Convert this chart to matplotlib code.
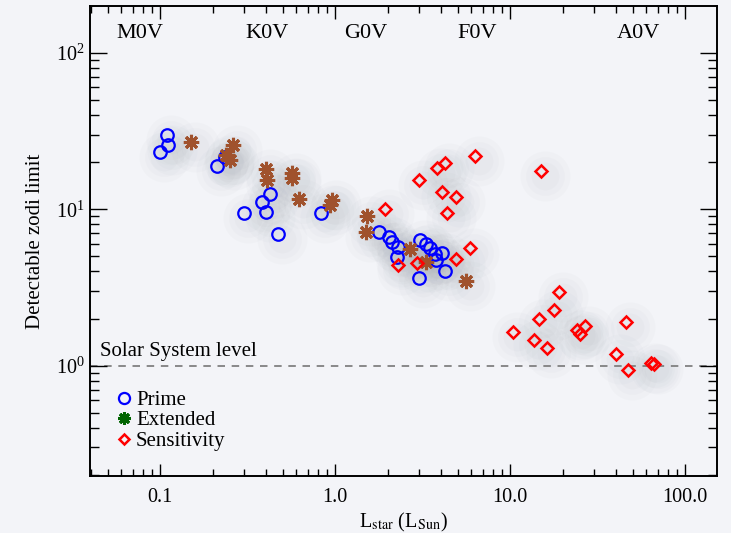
import matplotlib
matplotlib.use("Agg")
import matplotlib.pyplot as plt
import matplotlib.transforms as mtransforms
from matplotlib.lines import Line2D
from matplotlib.ticker import LogLocator, FixedLocator, FixedFormatter, NullFormatter

plt.rcParams['font.family'] = ['Liberation Serif', 'DejaVu Serif']
plt.rcParams['mathtext.fontset'] = 'stix'

# Prime targets (L_star in L_Sun, detectable zodi limit)
prime_L = [0.100, 0.111, 0.110, 0.210, 0.236, 0.300, 0.381, 0.422, 0.400, 0.472,
           0.825, 1.79, 2.02, 2.11, 2.28, 2.26, 3.04, 3.29, 3.46, 3.70,
           4.07, 3.78, 4.25, 3.00]
prime_z = [23.1, 25.6, 29.7, 19.0, 21.7, 9.5, 11.2, 12.6, 9.6, 6.9,
           9.5, 7.15, 6.64, 6.17, 5.73, 4.95, 6.33, 6.02, 5.65, 5.20,
           5.27, 4.72, 4.01, 3.65]

# Extended targets
ext_L = [0.150, 0.260, 0.239, 0.249, 0.400, 0.407, 0.566, 0.566, 0.623, 0.958,
         0.933, 1.52, 1.50, 2.67, 3.32, 5.58]
ext_z = [26.8, 25.9, 22.2, 20.6, 18.2, 15.4, 17.0, 15.8, 11.6, 11.4,
         10.6, 9.0, 7.2, 5.53, 4.62, 3.50]

# Sensitivity targets
sens_L = [1.92, 3.02, 3.83, 4.24, 6.29, 15.0, 4.09, 4.88, 4.33, 5.89,
          4.89, 2.28, 2.93, 10.3, 13.7, 14.5, 16.3, 17.8, 18.9, 24.2,
          24.9, 26.7, 45.7, 40.2, 47.2, 63.3, 66.4]
sens_z = [9.99, 15.4, 18.4, 19.7, 22.0, 17.6, 12.9, 11.9, 9.5, 5.63,
          4.84, 4.42, 4.56, 1.63, 1.45, 1.98, 1.30, 2.27, 2.94, 1.68,
          1.59, 1.79, 1.89, 1.18, 0.94, 1.04, 1.02]

# spectral type markers along the top
spt_names = ['M0V', 'K0V', 'G0V', 'F0V', 'A0V']
spt_L = [0.077, 0.41, 1.5, 6.45, 54.0]

bg = '#f3f4f8'
fig = plt.figure(figsize=(7.31, 5.33), dpi=100, facecolor=bg)
ax = fig.add_axes([0.1231, 0.1075, 0.8577, 0.8812], facecolor=bg)
ax.set_xscale('log')
ax.set_yscale('log')
ax.set_xlim(0.0397, 151.7)
ax.set_ylim(0.198, 199)

# soft drop shadow under the points (stacked faint discs, shifted down-right)
shadow = mtransforms.offset_copy(ax.transData, fig=fig, x=4, y=-5, units='dots')
all_L = prime_L + ext_L + sens_L
all_z = prime_z + ext_z + sens_z
for s, a in [(36, 0.04), (28, 0.04), (20, 0.045)]:
    ax.plot(all_L, all_z, ls='none', marker='o', ms=s, mfc='#9aa0aa', mec='none',
            alpha=a, transform=shadow, zorder=0.5)

ax.axhline(1.0, color='#777777', lw=1.2, ls=(0, (4.5, 4)), zorder=1)
ax.text(0.0452, 1.07, 'Solar System level', fontsize=15, ha='left', va='bottom')

ax.plot(prime_L, prime_z, ls='none', marker='o', ms=9, mfc='none', mec='#0000ff', mew=1.6, zorder=3)
ax.plot(ext_L, ext_z, ls='none', marker=(8, 2, 0), ms=11, mec='#a0522d', mew=2.2, zorder=4)
ax.plot(sens_L, sens_z, ls='none', marker='D', ms=6.3, mfc='none', mec='#ff0000', mew=1.8, zorder=5)

for name, L in zip(spt_names, spt_L):
    ax.text(L, 133, name, fontsize=16, ha='center', va='center')

ax.set_xlabel(r'L$_{\rm star}$ (L$_{\rm Sun}$)', fontsize=14.5, labelpad=3)
ax.set_ylabel('Detectable zodi limit', fontsize=15, labelpad=8)

ax.xaxis.set_major_locator(FixedLocator([0.1, 1.0, 10.0, 100.0]))
ax.xaxis.set_major_formatter(FixedFormatter(['0.1', '1.0', '10.0', '100.0']))
ax.xaxis.set_minor_locator(LogLocator(base=10, subs=range(2, 10), numticks=20))
ax.xaxis.set_minor_formatter(NullFormatter())
ax.yaxis.set_minor_locator(LogLocator(base=10, subs=range(2, 10), numticks=20))
ax.yaxis.set_minor_formatter(NullFormatter())

ax.tick_params(which='both', direction='in', top=True, right=True, width=1.0, labelsize=14.5)
ax.tick_params(axis='x', which='major', length=9, pad=9)
ax.tick_params(axis='x', which='minor', length=5)
ax.tick_params(axis='y', which='major', length=12, pad=4)
ax.tick_params(axis='y', which='minor', length=6.5)
for sp in ax.spines.values():
    sp.set_linewidth(1.4)

handles = [
    Line2D([], [], ls='none', marker='o', ms=8, mfc='none', mec='#0000ff', mew=1.6, label='Prime'),
    Line2D([], [], ls='none', marker=(8, 2, 0), ms=9, mec='#006400', mew=2.2, label='Extended'),
    Line2D([], [], ls='none', marker='D', ms=5.5, mfc='none', mec='#ff0000', mew=1.8, label='Sensitivity'),
]
ax.legend(handles=handles, loc='upper left', bbox_to_anchor=(0.017, 0.213), frameon=False,
          fontsize=15, handlelength=0.8, handletextpad=0.2, labelspacing=0.05, borderpad=0.2)

fig.savefig('out.png', dpi=100, facecolor=bg)
